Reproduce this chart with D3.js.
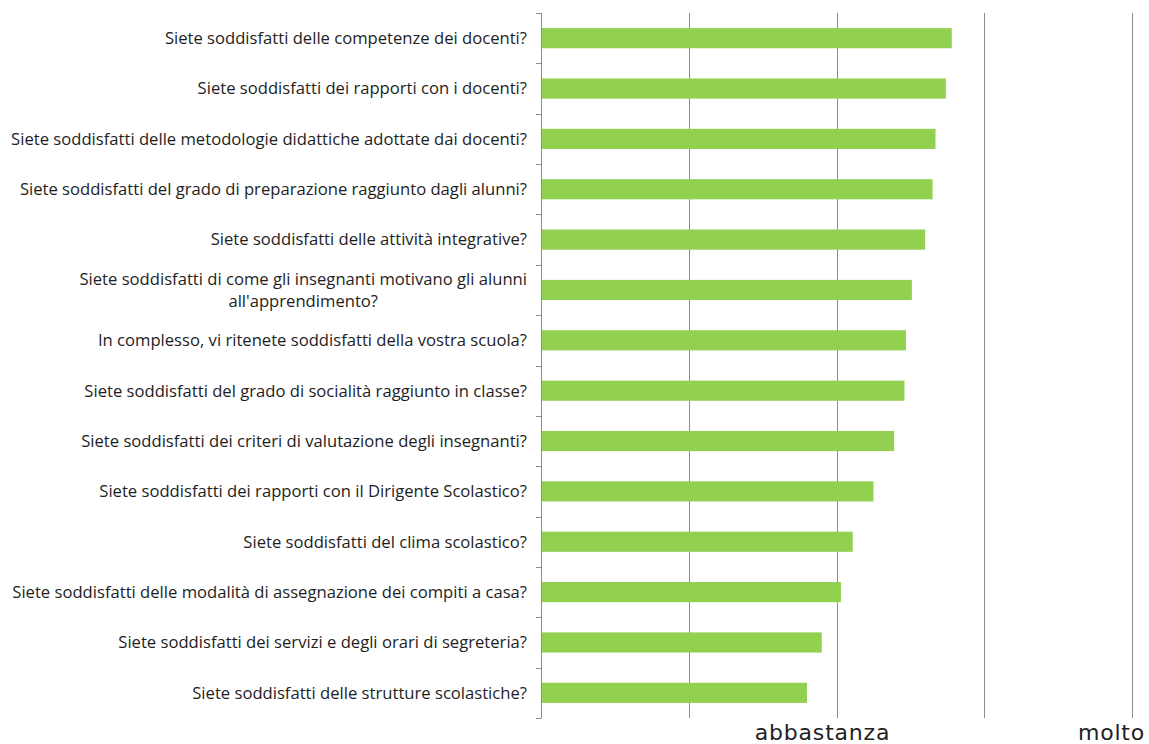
<!DOCTYPE html>
<html>
<head>
<meta charset="utf-8">
<script src="https://cdn.jsdelivr.net/npm/d3@7"></script>
<style>
  body { margin: 0; background: #fff; }
</style>
</head>
<body>
<div id="graph"></div>
<script>
var w = 1149, h = 744

// domande (dall'alto in basso) e punteggio medio
var questions = [
  "Siete soddisfatti delle competenze dei docenti?",
  "Siete soddisfatti dei rapporti con i docenti?",
  "Siete soddisfatti delle metodologie didattiche adottate dai docenti?",
  "Siete soddisfatti del grado di preparazione raggiunto dagli alunni?",
  "Siete soddisfatti delle attività integrative?",
  "Siete soddisfatti di come gli insegnanti motivano gli alunni|all'apprendimento?",
  "In complesso, vi ritenete soddisfatti della vostra scuola?",
  "Siete soddisfatti del grado di socialità raggiunto in classe?",
  "Siete soddisfatti dei criteri di valutazione degli insegnanti?",
  "Siete soddisfatti dei rapporti con il Dirigente Scolastico?",
  "Siete soddisfatti del clima scolastico?",
  "Siete soddisfatti delle modalità di assegnazione dei compiti a casa?",
  "Siete soddisfatti dei servizi e degli orari di segreteria?",
  "Siete soddisfatti delle strutture scolastiche?"
]
var scores = [3.78, 3.74, 3.67, 3.65, 3.60, 3.51, 3.47, 3.46, 3.39, 3.25, 3.11, 3.03, 2.90, 2.80]

var tickValues = [1, 2, 3, 4, 5]
var tickLabels = ["", "", "abbastanza", "", "molto"]

var data = questions.map((q, i) => ({q, v: scores[i]}))

var x0 = 541, x1 = 1132, y0 = 13, y1 = 718

var x = d3.scaleLinear().domain([1, 5]).range([x0, x1])
var y = d3.scaleBand().domain(questions).range([y0, y1]).paddingInner(0.6).paddingOuter(0.3)

var svg = d3.select('#graph').append('svg')
  .attr('width', w)
  .attr('height', h)
  .style('display', 'block')

// griglia verticale
svg.append('g').selectAll('line')
  .data(tickValues.slice(1))
  .enter().append('line')
  .attr('x1', d => Math.round(x(d)) + 0.5)
  .attr('x2', d => Math.round(x(d)) + 0.5)
  .attr('y1', y0)
  .attr('y2', y1)
  .attr('stroke', '#8c8c8c')
  .attr('stroke-width', 1)

// barre
svg.append('g').selectAll('rect')
  .data(data)
  .enter().append('rect')
  .attr('x', x0)
  .attr('y', d => y(d.q))
  .attr('width', d => x(d.v) - x0)
  .attr('height', y.bandwidth())
  .attr('fill', '#92d050')

// asse verticale con tacche tra le categorie
var bounds = d3.range(questions.length + 1).map(i => y0 + i * (y1 - y0) / questions.length)
svg.append('line')
  .attr('x1', x0 + 0.5).attr('x2', x0 + 0.5)
  .attr('y1', y0).attr('y2', y1)
  .attr('stroke', '#8c8c8c')
svg.append('g').selectAll('line')
  .data(bounds)
  .enter().append('line')
  .attr('x1', x0 - 5).attr('x2', x0 + 0.5)
  .attr('y1', d => Math.round(d) + 0.5)
  .attr('y2', d => Math.round(d) + 0.5)
  .attr('stroke', '#8c8c8c')

// etichette categorie
var labels = svg.append('g')
  .style('font-family', '"Open Sans", Lato, sans-serif')
  .style('font-size', '15px')
  .attr('fill', '#1e1e1e')

// adatta la dimensione del font alla larghezza dell'etichetta più lunga
var probe = labels.append('text').text(questions[11])
var fs = 15 * 515 / probe.node().getComputedTextLength()
probe.remove()
labels.style('font-size', fs + 'px')

data.forEach(d => {
  var lines = d.q.split('|')
  var cy = y(d.q) + y.bandwidth() / 2
  var t = labels.append('text')
    .attr('y', cy)
  if (lines.length == 1) {
    t.attr('x', 527).attr('text-anchor', 'end').attr('dy', '0.35em').text(lines[0])
  } else {
    // righe a capo centrate come in Excel
    var tmp = labels.append('text').text(lines[0])
    var maxW = tmp.node().getComputedTextLength()
    tmp.remove()
    var cx = 527 - maxW / 2
    t.attr('text-anchor', 'middle')
    lines.forEach((l, i) => {
      t.append('tspan')
        .attr('x', cx)
        .attr('y', cy + (i - (lines.length - 1) / 2) * 22)
        .attr('dy', '0.35em')
        .text(l)
    })
  }
})

// etichette asse x
svg.append('g').selectAll('text')
  .data(tickValues)
  .enter().append('text')
  .attr('x', (d, i) => i == tickValues.length - 1 ? w - 4 : x(d) - 14)
  .attr('y', 740)
  .attr('text-anchor', (d, i) => i == tickValues.length - 1 ? 'end' : 'middle')
  .style('font-family', '"DejaVu Sans", sans-serif')
  .style('font-size', '22px')
  .style('letter-spacing', '0.8px')
  .attr('fill', '#222')
  .text((d, i) => tickLabels[i])
</script>
</body>
</html>
